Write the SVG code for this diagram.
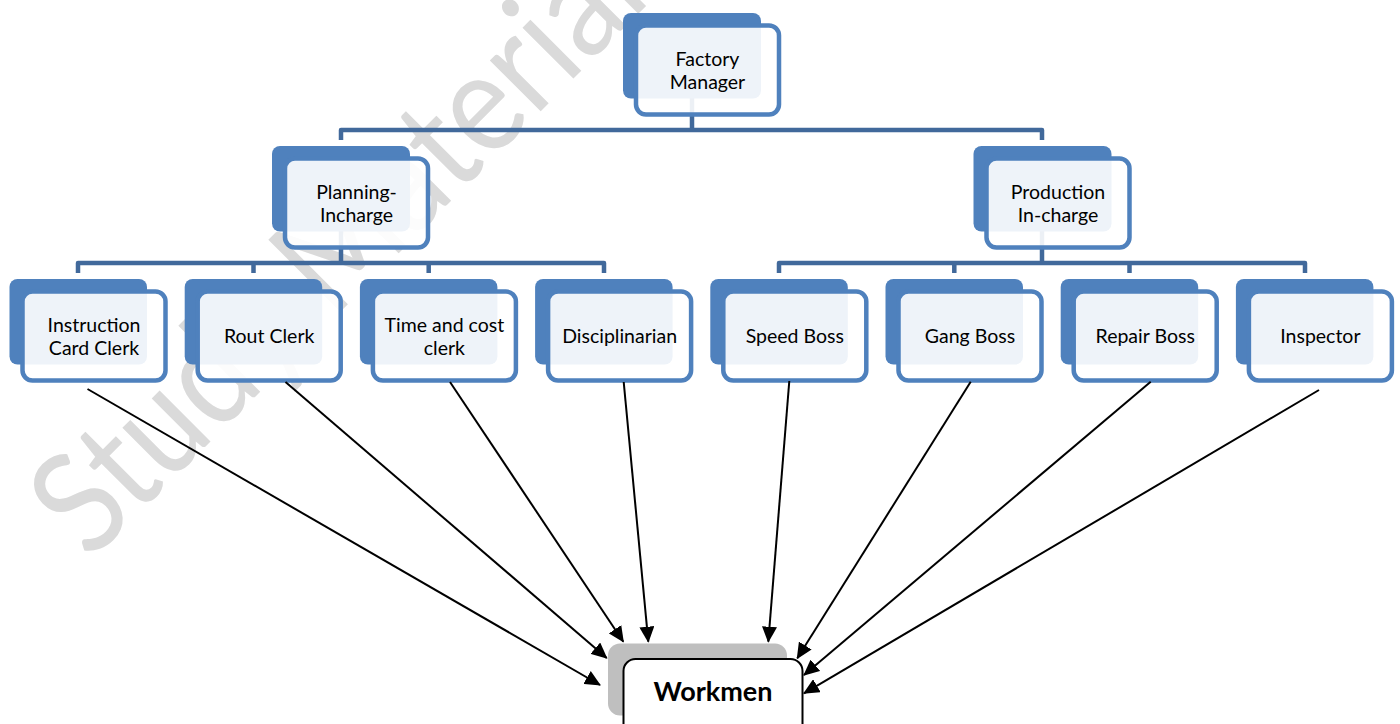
<svg xmlns="http://www.w3.org/2000/svg" width="1400" height="724" viewBox="0 0 1400 724">
<defs>
<style>
.back{fill:#4f81bd}
.front{fill:#ffffff;fill-opacity:0.9;stroke:#4f81bd;stroke-width:4.5}
.lbl{font-family:Lato,"Liberation Sans",sans-serif;font-size:19.5px;fill:#000;text-anchor:middle}
.org{fill:none;stroke:#41699b;stroke-width:4.5;stroke-linejoin:round}
.arr{stroke:#000;stroke-width:2;fill:none;marker-end:url(#ah)}
.wm{font-family:Lato,"Liberation Sans",sans-serif;font-size:142px;fill:#dadada}
</style>
<marker id="ah" markerUnits="userSpaceOnUse" markerWidth="16" markerHeight="15" refX="15" refY="7.5" orient="auto">
<path d="M0,0 L16,7.5 L0,15 z" fill="#000"/>
</marker>
</defs>
<rect width="1400" height="724" fill="#fff"/>
<text class="wm" transform="translate(90,562) rotate(-45) scale(0.88,1)">Study Material</text>
<g id="connectors">
<path class="org" d="M692,60 V130"/>
<path class="org" d="M341,140 V130 H1042 V140"/>
<path class="org" d="M341,200 V263"/>
<path class="org" d="M78,273 V263 H604 V273 M253.5,263 V273 M428.7,263 V273"/>
<path class="org" d="M1042,200 V263"/>
<path class="org" d="M779,273 V263 H1305 V273 M954.3,263 V273 M1129.5,263 V273"/>
</g>
<g id="n-factory"><rect class="back" x="623" y="13" width="138" height="85.5" rx="8"/><rect class="front" x="636" y="25.5" width="143" height="89" rx="10"/><text class="lbl" x="707.5" y="65.5">Factory</text><text class="lbl" x="707.5" y="88.5">Manager</text></g>
<g id="n-planning"><rect class="back" x="272" y="146" width="138" height="85.5" rx="8"/><rect class="front" x="285" y="158.5" width="143" height="89" rx="10"/><text class="lbl" x="356.5" y="198.5">Planning-</text><text class="lbl" x="356.5" y="221.5">Incharge</text></g>
<g id="n-production"><rect class="back" x="973.5" y="146" width="138" height="85.5" rx="8"/><rect class="front" x="986.5" y="158.5" width="143" height="89" rx="10"/><text class="lbl" x="1058" y="198.5">Production</text><text class="lbl" x="1058" y="221.5">In-charge</text></g>
<g id="n-instruction"><rect class="back" x="9.5" y="279" width="137.5" height="85.5" rx="8"/><rect class="front" x="22.5" y="291.5" width="143" height="89" rx="10"/><text class="lbl" x="94" y="331.5">Instruction</text><text class="lbl" x="94" y="354.5">Card Clerk</text></g>
<g id="n-rout"><rect class="back" x="184.7" y="279" width="137.5" height="85.5" rx="8"/><rect class="front" x="197.7" y="291.5" width="143" height="89" rx="10"/><text class="lbl" x="269.2" y="342.5">Rout Clerk</text></g>
<g id="n-time"><rect class="back" x="359.9" y="279" width="137.5" height="85.5" rx="8"/><rect class="front" x="372.9" y="291.5" width="143" height="89" rx="10"/><text class="lbl" x="444.4" y="331.5">Time and cost</text><text class="lbl" x="444.4" y="354.5">clerk</text></g>
<g id="n-disc"><rect class="back" x="535.1" y="279" width="137.5" height="85.5" rx="8"/><rect class="front" x="548.1" y="291.5" width="143" height="89" rx="10"/><text class="lbl" x="619.6" y="342.5">Disciplinarian</text></g>
<g id="n-speed"><rect class="back" x="710.3" y="279" width="137.5" height="85.5" rx="8"/><rect class="front" x="723.3" y="291.5" width="143" height="89" rx="10"/><text class="lbl" x="794.8" y="342.5">Speed Boss</text></g>
<g id="n-gang"><rect class="back" x="885.5" y="279" width="137.5" height="85.5" rx="8"/><rect class="front" x="898.5" y="291.5" width="143" height="89" rx="10"/><text class="lbl" x="970" y="342.5">Gang Boss</text></g>
<g id="n-repair"><rect class="back" x="1060.7" y="279" width="137.5" height="85.5" rx="8"/><rect class="front" x="1073.7" y="291.5" width="143" height="89" rx="10"/><text class="lbl" x="1145.2" y="342.5">Repair Boss</text></g>
<g id="n-inspector"><rect class="back" x="1235.9" y="279" width="137.5" height="85.5" rx="8"/><rect class="front" x="1248.9" y="291.5" width="143" height="89" rx="10"/><text class="lbl" x="1320.4" y="342.5">Inspector</text></g>
<g id="arrows">
<line class="arr" x1="87.5" y1="389" x2="600" y2="685"/>
<line class="arr" x1="285.5" y1="382" x2="606.7" y2="658"/>
<line class="arr" x1="450" y1="382" x2="623.3" y2="641.7"/>
<line class="arr" x1="623.7" y1="382" x2="648.3" y2="641.7"/>
<line class="arr" x1="789.3" y1="381" x2="768.3" y2="641.7"/>
<line class="arr" x1="970.7" y1="381.7" x2="797.3" y2="658.3"/>
<line class="arr" x1="1150.7" y1="381.7" x2="804" y2="675"/>
<line class="arr" x1="1319" y1="390" x2="804" y2="693.3"/>
</g>
<g id="n-workmen"><rect x="608" y="643.5" width="179" height="72" rx="12" fill="#bfbfbf"/><rect x="623.5" y="659" width="179" height="90" rx="12" fill="#fff" stroke="#000" stroke-width="2"/><text x="713" y="700.5" font-family="Lato,'Liberation Sans',sans-serif" font-size="27" font-weight="bold" text-anchor="middle" fill="#000">Workmen</text></g>
</svg>
